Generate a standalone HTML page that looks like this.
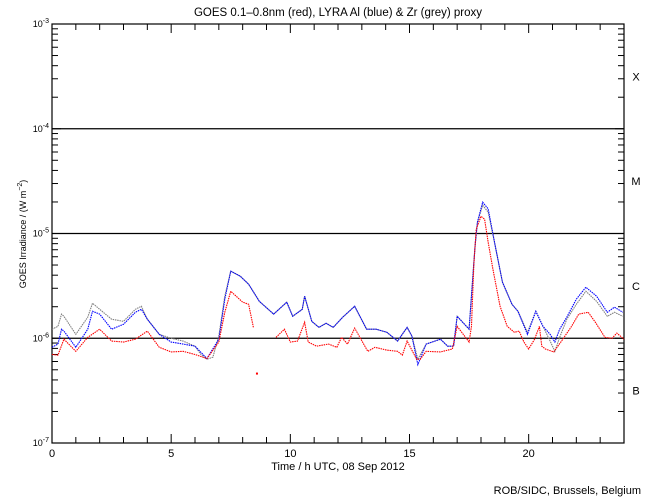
<!DOCTYPE html>
<html><head><meta charset="utf-8"><style>
body{margin:0;background:#fff}
svg{display:block;font-family:"Liberation Sans",sans-serif}
</style></head><body>
<svg id="chart" width="650" height="500" viewBox="0 0 650 500">
<rect width="650" height="500" fill="#fff"/>
<text x="338" y="16" font-size="11.5" text-anchor="middle">GOES 0.1–0.8nm (red), LYRA Al (blue) &amp; Zr (grey) proxy</text>
<text transform="translate(26,234) rotate(-90)" font-size="9" text-anchor="middle">GOES Irradiance / (W m<tspan dy="-4" font-size="7">−2</tspan><tspan dy="4">)</tspan></text>
<text x="338" y="470" font-size="11" text-anchor="middle">Time / h UTC, 08 Sep 2012</text>
<text x="641" y="494" font-size="11" text-anchor="end">ROB/SIDC, Brussels, Belgium</text>
<g id="axes"></g>
<g id="series"></g>
</svg>
<script>
const xTicks=[0,5,10,15,20];
const yDecades=[-7,-6,-5,-4,-3];
const classLabels=['B','C','M','X'];
const greyT=[0,0.25,0.4,0.5,1,1.5,1.7,2,2.5,3,3.5,3.75,4,4.5,5,5.5,6,6.25,6.5,6.75,7,7.25,7.5,7.9,8.25,8.7,9.3,9.85,10.1,10.5,10.6,10.9,11.2,11.5,11.8,12.2,12.7,13.2,13.6,14.05,14.5,14.9,15.1,15.35,15.7,16.3,16.6,16.85,17,17.5,17.65,17.75,17.85,18.07,18.3,18.6,18.9,19.3,19.55,19.95,20.3,20.6,20.9,21.1,21.3,21.6,22,22.4,22.85,23.3,23.6,23.95];
const greyV=[1.22,1.30,1.70,1.62,1.09,1.59,2.16,1.89,1.52,1.45,1.89,2.02,1.52,1.09,1.0,0.94,0.84,0.70,0.63,0.66,1.05,2.52,4.37,3.91,3.28,2.25,1.70,2.21,1.62,1.89,2.52,1.45,1.27,1.39,1.27,1.59,2.02,1.22,1.22,1.14,0.94,1.27,1.05,0.63,0.88,0.98,0.84,0.84,1.62,1.22,3.66,7.55,12.8,18.6,16.0,7.55,3.43,2.11,1.81,1.14,1.81,1.30,0.94,0.75,1.02,1.52,2.11,2.81,2.25,1.62,1.77,1.62].map(v=>v*1e-6);
const blueT=[0,0.25,0.4,0.5,1,1.5,1.7,2,2.5,3,3.5,3.75,4,4.5,5,5.5,6,6.5,7,7.25,7.5,7.9,8.25,8.7,9.3,9.85,10.1,10.5,10.6,10.9,11.2,11.5,11.8,12.2,12.7,13.2,13.6,14.05,14.5,14.9,15.1,15.35,15.7,16.3,16.6,16.85,17,17.5,17.65,17.75,17.85,18.07,18.3,18.6,18.9,19.3,19.55,19.95,20.3,20.6,20.9,21.1,21.3,21.6,22,22.4,22.85,23.3,23.6,23.95];
const blueV=[0.82,0.88,1.22,1.17,0.82,1.22,1.81,1.70,1.22,1.36,1.77,1.89,1.52,1.09,0.92,0.88,0.84,0.64,0.98,2.36,4.37,3.91,3.28,2.25,1.70,2.21,1.62,1.89,2.52,1.45,1.27,1.39,1.27,1.59,2.02,1.22,1.22,1.14,0.94,1.27,1.05,0.56,0.88,0.98,0.84,0.84,1.62,1.22,3.66,7.55,12.8,19.9,17.2,7.55,3.43,2.11,1.81,1.09,1.81,1.30,1.09,0.92,1.22,1.59,2.36,3.07,2.52,1.77,1.98,1.77].map(v=>v*1e-6);
const redT=[0,0.25,0.5,1,1.5,2,2.5,3,3.5,4,4.5,5,5.5,6,6.5,7,7.25,7.5,8,8.25,8.45,null,8.6,null,9.4,9.75,10,10.3,10.6,10.75,11.1,11.6,11.95,12.15,12.4,12.7,13.25,13.55,14.05,14.5,14.7,14.9,15.3,15.45,15.7,16.3,16.8,17,17.5,17.6,17.7,17.8,18,18.15,18.3,18.5,18.8,19.1,19.4,19.6,19.8,20,20.25,20.45,20.55,20.7,21.05,21.35,21.8,22.1,22.5,22.8,23.2,23.5,23.7,24];
const redV=[0.70,0.69,0.98,0.75,1.02,1.22,0.94,0.92,0.98,1.17,0.82,0.74,0.75,0.70,0.64,0.92,1.77,2.81,2.21,2.11,1.27,null,0.46,null,1.02,1.22,0.92,0.94,1.42,0.92,0.84,0.88,0.82,1.02,0.88,1.25,0.75,0.82,0.77,0.75,0.69,0.94,0.63,0.63,0.75,0.74,0.79,1.30,0.92,1.30,5.09,11.0,14.6,13.7,8.26,4.56,2.02,1.30,1.14,1.17,0.92,0.79,0.98,1.30,0.84,0.79,0.74,0.92,1.30,1.70,1.77,1.42,1.02,1.0,1.12,0.98].map(v=>v==null?null:v*1e-6);

const L=52,R=624,T=24,B=443;
const xs=h=>L+(R-L)*h/24;
const ys=v=>B-(Math.log10(v)+7)*(B-T)/4;
const NS='http://www.w3.org/2000/svg';
const ax=document.getElementById('axes'), sg=document.getElementById('series');
function mk(tag,attrs,parent){const e=document.createElementNS(NS,tag);for(const k in attrs)e.setAttribute(k,attrs[k]);parent.appendChild(e);return e;}
let frame=mk('rect',{x:L,y:T,width:R-L,height:B-T,fill:'none',stroke:'#000','stroke-width':1.2},ax);


for(let h=0;h<=24;h++){
  const x=xs(h), len=(h%5===0)?9:6;
  const t1=mk('line',{x1:x,x2:x,y1:B,y2:B-len,stroke:'#000'},ax);
  
  
  const t2=mk('line',{x1:x,x2:x,y1:T,y2:T+len,stroke:'#000'},ax);
  
  
}
xTicks.forEach(h=>{
  const t=mk('text',{x:xs(h),y:B+14,'font-size':11,'text-anchor':'middle'},ax);
  t.textContent=h;
  
  
});
yDecades.forEach((d,i)=>{
  const y=ys(Math.pow(10,d));
  if(d>-7&&d<-3){
    const g=mk('line',{x1:L,x2:R,y1:y,y2:y,stroke:'#000','stroke-width':1.2},ax);
    
    
  }
  const lab=mk('text',{x:L-3,y:y+3,'font-size':9,'text-anchor':'end'},ax);
  lab.innerHTML='10<tspan dy="-4" font-size="7">'+d+'</tspan>';
  
  
  if(d<-3){
    for(let m=1;m<=9;m++){
      const yy=ys(m*Math.pow(10,d)), len=(m===1)?9:6;
      const a=mk('line',{x1:L,x2:L+len,y1:yy,y2:yy,stroke:'#000'},ax);
      
      
      const b=mk('line',{x1:R,x2:R-len,y1:yy,y2:yy,stroke:'#000'},ax);
      
      
    }
  }
});
classLabels.forEach((c,i)=>{
  const y=ys(Math.pow(10,-7+i+0.5));
  const t=mk('text',{x:636,y:y+4,'font-size':11,'text-anchor':'middle'},ax);
  t.textContent=c;
  
  
});
function drawSeries(T_,V_,color,name){
  let segs=[],cur=[];
  T_.forEach((t,i)=>{if(t==null||V_[i]==null){if(cur.length)segs.push(cur);cur=[];}else cur.push([xs(t),ys(V_[i])]);});
  if(cur.length)segs.push(cur);
  segs.forEach(s=>{
    if(s.length===1){
      const r=mk('rect',{x:s[0][0]-1,y:s[0][1]-1,width:2,height:2,fill:color},sg);
      
      
    } else {
      const p=mk('polyline',{points:s.map(q=>q.join(',')).join(' '),fill:'none',stroke:color,'stroke-width':1.1,'stroke-dasharray':'1.5 0.8'},sg);
      
      
    }
  });
}
drawSeries(greyT,greyV,'#808080','zr-grey-series');
drawSeries(blueT,blueV,'#0000ff','al-blue-series');
drawSeries(redT,redV,'#ff0000','goes-red-series');
</script>
</body></html>
